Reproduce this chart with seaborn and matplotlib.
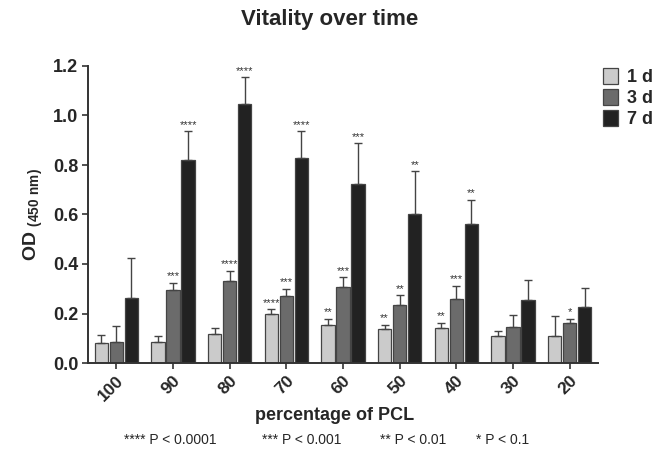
import numpy as np
import pandas as pd
import matplotlib
matplotlib.use("Agg")
import matplotlib.pyplot as plt
import seaborn as sns

categories = ["100", "90", "80", "70", "60", "50", "40", "30", "20"]
days = ["1 d", "3 d", "7 d"]
od_1d = [0.081, 0.085, 0.117, 0.198, 0.152, 0.137, 0.140, 0.108, 0.109]
od_3d = [0.085, 0.293, 0.330, 0.272, 0.306, 0.233, 0.260, 0.147, 0.160]
od_7d = [0.263, 0.821, 1.045, 0.830, 0.724, 0.604, 0.562, 0.256, 0.228]
err_1d = [0.032, 0.023, 0.026, 0.019, 0.026, 0.018, 0.023, 0.021, 0.082]
err_3d = [0.066, 0.032, 0.042, 0.029, 0.040, 0.041, 0.053, 0.048, 0.018]
err_7d = [0.163, 0.115, 0.109, 0.107, 0.163, 0.170, 0.097, 0.081, 0.074]
stars_1d = ["", "", "", "****", "**", "**", "**", "", ""]
stars_3d = ["", "***", "****", "***", "***", "**", "***", "", "*"]
stars_7d = ["", "****", "****", "****", "***", "**", "**", "", ""]
yticks = [0.0, 0.2, 0.4, 0.6, 0.8, 1.0, 1.2]
footnotes = ["**** P < 0.0001", "*** P < 0.001", "** P < 0.01", "* P < 0.1"]

colors = ["#cbcbcb", "#6b6b6b", "#222222"]

df = pd.DataFrame({
    "cat": categories * 3,
    "day": [d for d in days for _ in categories],
    "od": od_1d + od_3d + od_7d,
})

sns.set_style("white")
plt.rcParams["font.family"] = ["Liberation Sans", "DejaVu Sans"]
plt.rcParams["mathtext.fontset"] = "custom"
plt.rcParams["mathtext.rm"] = "Liberation Sans"
plt.rcParams["mathtext.bf"] = "Liberation Sans:bold"

fig = plt.figure(figsize=(6.6, 4.61), dpi=100)
ax = fig.add_axes([88 / 660, 1 - 363 / 461, (598 - 88) / 660, (363 - 66) / 461])

sns.barplot(data=df, x="cat", y="od", hue="day", order=categories, hue_order=days,
            palette=colors, errorbar=None, gap=0.12, width=0.8,
            edgecolor="#444444", linewidth=0.9, ax=ax, legend=True)

errs = [err_1d, err_3d, err_7d]
stars = [stars_1d, stars_3d, stars_7d]
for cont, e, s in zip(ax.containers, errs, stars):
    for bar, ev, st in zip(cont.patches, e, s):
        xc = bar.get_x() + bar.get_width() / 2
        h = bar.get_height()
        ax.errorbar([xc], [h], yerr=[[0], [ev]], fmt="none", ecolor="#444444",
                    elinewidth=1.0, capsize=3, capthick=1.0, zorder=1)
        if st:
            ax.text(xc, h + ev + 0.006, st, ha="center", va="bottom", fontsize=8,
                    color="#333333")

ax.set_xlim(-0.5, 8.5)
ax.set_ylim(0, 1.2)
ax.set_yticks(yticks)
ax.set_yticklabels([f"{v:.1f}" for v in yticks], fontsize=13, fontweight="bold")
ax.set_xticks(range(len(categories)))
ax.set_xticklabels(categories, rotation=45, fontsize=12.5, fontweight="bold")
for lab in ax.get_xticklabels():
    lab.set_rotation_mode("anchor")
    lab.set_ha("right")
    lab.set_va("top")
ax.tick_params(axis="both", direction="out", length=4, width=1.2, color="#333333",
               bottom=True, left=True, pad=3)
for sp in ["top", "right"]:
    ax.spines[sp].set_visible(False)
for sp in ["left", "bottom"]:
    ax.spines[sp].set_color("#333333")
    ax.spines[sp].set_linewidth(1.4)

ax.set_xlabel("")
ax.set_ylabel(r"$\mathbf{OD}$ $_{\mathbf{(450\ nm)}}$", fontsize=14, labelpad=6)

handles, labels = ax.get_legend_handles_labels()
ax.legend(handles, labels, loc="upper left", bbox_to_anchor=(603 / 660, 1 - 68 / 461),
          bbox_transform=fig.transFigure, frameon=False,
          prop={"weight": "bold", "size": 13}, handlelength=0.85, handleheight=1.0,
          handletextpad=0.5, labelspacing=0.15, borderaxespad=0.0, borderpad=0.0)

fig.text(0.5, 1 - 20 / 461, "Vitality over time", fontsize=16, fontweight="bold",
         ha="center", va="center")
fig.text(335 / 660, 1 - 415 / 461, "percentage of PCL", fontsize=13, fontweight="bold",
         ha="center", va="center")

xs = [170 / 660, 302 / 660, 413 / 660, 503 / 660]
for x, t in zip(xs, footnotes):
    fig.text(x, 1 - 440 / 461, t, ha="center", va="center", fontsize=10)

fig.savefig("out.png", dpi=100)
